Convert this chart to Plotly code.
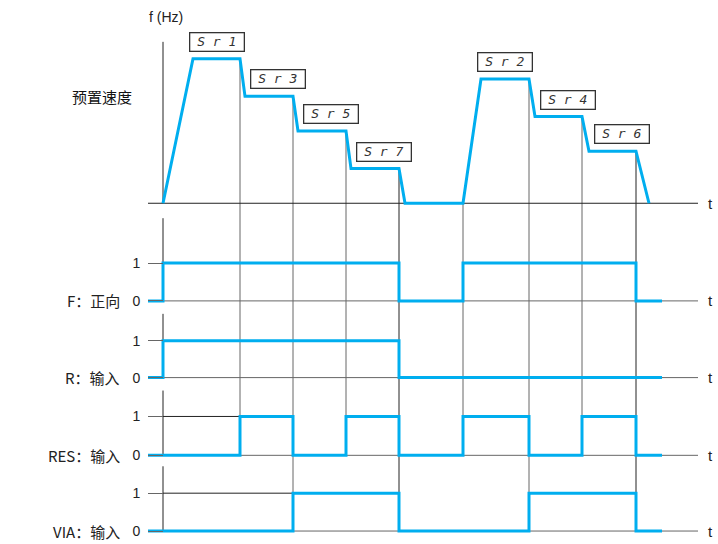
import numpy as np
import plotly.graph_objects as go

# frequency profile (time in arbitrary units, f in Hz)
f_time = [0, 3.0, 7.7, 8.2, 13.0, 13.5, 18.3, 18.8, 23.6, 24.2, 30.0, 31.8, 36.6, 37.2, 41.9, 42.6, 47.3, 48.6]
f_hz = [0, 50, 50, 37, 37, 25, 25, 12, 12, 0, 0, 43, 43, 30, 30, 18, 18, 0]

# preset speed labels: plateau start / end / level
speed_names = ["S r 1", "S r 3", "S r 5", "S r 7", "S r 2", "S r 4", "S r 6"]
speed_start = [3.0, 8.2, 13.5, 18.8, 31.8, 37.2, 42.6]
speed_end = [7.7, 13.0, 18.3, 23.6, 36.6, 41.9, 47.3]
speed_hz = [50, 37, 25, 12, 43, 30, 18]
speed_peak = [True, False, False, False, True, False, False]

# logic inputs (step signals)
sig_time = [-1.5, 0, 7.7, 13.0, 18.3, 23.6, 30.0, 36.6, 41.9, 47.3, 49.9]
sig_F = [0, 1, 1, 1, 1, 0, 1, 1, 1, 0, 0]
sig_R = [0, 1, 1, 1, 1, 0, 0, 0, 0, 0, 0]
sig_RES = [0, 0, 1, 0, 1, 0, 1, 0, 1, 0, 0]
sig_VIA = [0, 0, 0, 1, 1, 0, 0, 1, 1, 0, 0]
sig_labels = ["F：正向", "R：输入", "RES：输入", "VIA：输入"]
signals = [sig_F, sig_R, sig_RES, sig_VIA]

# transition instants marked by vertical lines
marks = [7.7, 13.0, 18.3, 23.6, 30.0, 36.6, 41.9, 47.3]

W, H = 718, 544
X0, PXT = 163, 10.0
BLUE = "#00AEEF"
CJK = "Noto Sans CJK SC, Liberation Sans, sans-serif"
LAT = "Liberation Sans, Arial, sans-serif"

# panel layout in pixels: baseline, px per unit, axis top, span
panels = [
    dict(base=204, unit=2.9, top=42, span=(0, 210)),
    dict(base=302, unit=38, top=219, span=(211, 308)),
    dict(base=379, unit=37, top=315, span=(309, 385)),
    dict(base=457, unit=39, top=392, span=(386, 463)),
    dict(base=533, unit=38, top=468, span=(464, 544)),
]


def fx(px):
    return px / W


def fy(py):
    return 1 - py / H


def yname(k):
    return "y" if k == 0 else f"y{k + 1}"


def to_paper(k, v):
    p = panels[k]
    return fy(p["base"] - v * p["unit"])


fig = go.Figure()

fig.add_trace(go.Scatter(x=f_time, y=f_hz, mode="lines", yaxis="y",
                         line=dict(color=BLUE, width=3), hoverinfo="skip"))
for i, s in enumerate(signals):
    fig.add_trace(go.Scatter(x=sig_time, y=s, mode="lines", yaxis=yname(i + 1),
                             line=dict(color=BLUE, width=3, shape="hv"), hoverinfo="skip"))

shapes = []
annotations = []
layout_axes = {}
for k, p in enumerate(panels):
    top_px, bot_px = p["span"]
    rng = [(p["base"] - bot_px) / p["unit"], (p["base"] - top_px) / p["unit"]]
    ax = dict(domain=[fy(bot_px), fy(top_px)], range=rng, anchor="free",
              position=fx(X0), showgrid=False, zeroline=False, showline=False,
              fixedrange=True)
    if k == 0:
        ax.update(showticklabels=False, ticks="")
    else:
        ax.update(tickvals=[0, 1], ticktext=["0", "1"], ticks="outside", ticklen=15,
                  tickcolor="#666", tickwidth=1, ticklabelstandoff=5,
                  tickfont=dict(family=LAT, size=14, color="#222"))
    layout_axes["yaxis" if k == 0 else f"yaxis{k + 1}"] = ax

    yr = yname(k)
    # vertical axis of the panel
    shapes.append(dict(type="line", xref="x", yref=yr, x0=0, x1=0, y0=0,
                       y1=(p["base"] - p["top"]) / p["unit"],
                       line=dict(color="#222", width=1), layer="below"))
    # time axis
    shapes.append(dict(type="line", xref="x", yref=yr, x0=-1.5, x1=53.5, y0=0, y1=0,
                       line=dict(color="#222" if k == 0 else "#666", width=1), layer="below"))
    annotations.append(dict(text="t", xref="paper", x=fx(706), xanchor="left",
                            yref=yr, y=0, yanchor="middle", showarrow=False,
                            font=dict(family=LAT, size=15, color="#222")))

# "1" reference line up to first rise
for i, s in enumerate(signals):
    first = next(j for j, v in enumerate(s) if v == 1)
    if sig_time[first] > 0:
        shapes.append(dict(type="line", xref="x", yref=yname(i + 1), x0=0, x1=sig_time[first],
                           y0=1, y1=1, line=dict(color="#222", width=1), layer="below"))
    annotations.append(dict(text=sig_labels[i], xref="paper", x=fx(122), xanchor="right",
                            yref=yname(i + 1), y=0, yanchor="middle", showarrow=False,
                            font=dict(family=CJK, size=15, color="#222")))

# vertical marker lines from profile down to last panel with a transition
for t in marks:
    level = float(np.interp(t, f_time, f_hz))
    j = sig_time.index(t)
    last = 0
    for i, s in enumerate(signals):
        if s[j] != s[j - 1]:
            last = i + 1
    dark = t in (23.6, 47.3)
    shapes.append(dict(type="line", xref="x", yref="paper", x0=t, x1=t,
                       y0=to_paper(last, 0), y1=to_paper(0, level),
                       line=dict(color="#222" if dark else "#666", width=1), layer="below"))

# preset speed boxes
for name, a, b, hz, peak in zip(speed_names, speed_start, speed_end, speed_hz, speed_peak):
    annotations.append(dict(text=name, xref="x", x=(a + b) / 2, xanchor="center",
                            xshift=0 if peak else 9, yref="y", y=hz, yanchor="bottom",
                            yshift=7, showarrow=False, width=51, height=15,
                            bordercolor="#333", borderwidth=1.3, borderpad=1,
                            bgcolor="white",
                            font=dict(family="DejaVu Sans Mono", size=13, color="#333",
                                      style="italic")))

annotations.append(dict(text="f (Hz)", xref="paper", x=fx(147), xanchor="left",
                        yref="paper", y=fy(17), yanchor="middle", showarrow=False,
                        font=dict(family=LAT, size=14, color="#222")))
annotations.append(dict(text="预置速度", xref="paper", x=fx(134), xanchor="right",
                        yref="paper", y=fy(97), yanchor="middle", showarrow=False,
                        font=dict(family=CJK, size=15, color="#111")))

fig.update_layout(
    width=W, height=H, margin=dict(l=0, r=0, t=0, b=0),
    paper_bgcolor="white", plot_bgcolor="white", showlegend=False,
    xaxis=dict(range=[-X0 / PXT, (W - X0) / PXT], visible=False, fixedrange=True),
    shapes=shapes, annotations=annotations, **layout_axes,
)

# drop the default page margin so the 718x544 figure fills the window exactly
fig.write_html("out.html", config={"displayModeBar": False},
               post_script="document.body.style.margin='0';document.body.style.overflow='hidden';")
